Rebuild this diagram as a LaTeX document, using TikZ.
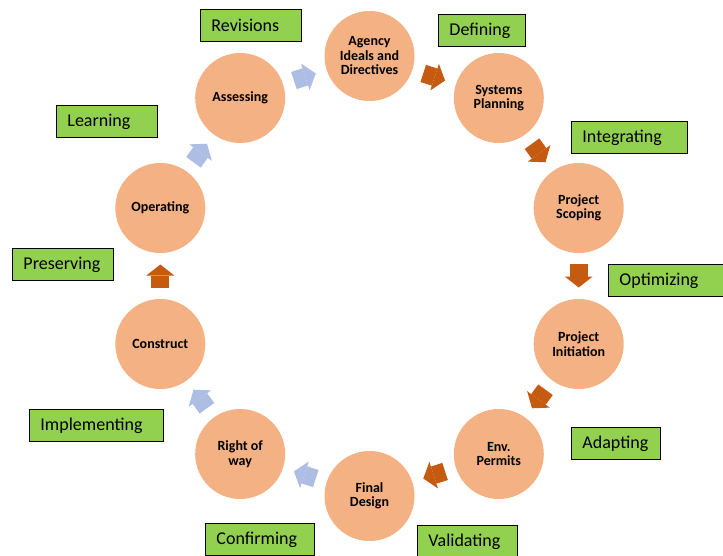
\documentclass[tikz,border=0pt]{standalone}
\usepackage{fontspec}
\setmainfont{Carlito}
\usetikzlibrary{arrows.meta}

\definecolor{stagefill}{HTML}{F4B183}
\definecolor{taggreen}{HTML}{92D050}
\definecolor{fwdorange}{HTML}{C55A11}
\definecolor{backblue}{HTML}{ADBDE3}

\tikzset{
    stage/.style = {circle, fill = stagefill, minimum size = 90pt, inner sep = 0pt, outer sep = 0pt,
        align = center, font = \bfseries\fontsize{14}{14.5}\selectfont},
    tag/.style = {draw = black, line width = 0.9pt, fill = taggreen, anchor = north west,
        minimum height = 32pt, inner xsep = 11pt, inner ysep = 0pt, align = left,
        font = \fontsize{18}{20}\selectfont},
    flow/.style = {line width = 18pt, -{Triangle[length = 11pt, width = 28pt, line width = 0pt]},
        shorten < = 11.5pt, shorten > = 11.5pt},
}

\begin{document}
\begin{tikzpicture}[x = 1pt, y = -1pt]
    \useasboundingbox (0, 0) rectangle (723, 556);

    % stages round the ring
    \node[stage] (agency) at (369.5, 56) {Agency\\Ideals and\\Directives};
    \node[stage] (systems) at (498.8, 98) {Systems\\Planning};
    \node[stage] (scoping) at (578.7, 208) {Project\\Scoping};
    \node[stage] (initiation) at (578.7, 344) {Project\\Initiation};
    \node[stage] (permits) at (498.8, 454) {Env.\\Permits};
    \node[stage] (final) at (369.5, 496) {Final\\Design};
    \node[stage] (rightofway) at (240.2, 454) {Right of\\way};
    \node[stage] (construct) at (160.3, 344) {Construct};
    \node[stage] (operating) at (160.3, 208) {Operating};
    \node[stage] (assessing) at (240.2, 98) {Assessing};

    % block arrows
    \draw[flow, fwdorange] (agency) -- (systems);
    \draw[flow, fwdorange] (systems) -- (scoping);
    \draw[flow, fwdorange] (scoping) -- (initiation);
    \draw[flow, fwdorange] (initiation) -- (permits);
    \draw[flow, fwdorange] (permits) -- (final);
    \draw[flow, backblue] (final) -- (rightofway);
    \draw[flow, backblue] (rightofway) -- (construct);
    \draw[flow, fwdorange] (construct) -- (operating);
    \draw[flow, backblue] (operating) -- (assessing);
    \draw[flow, backblue] (assessing) -- (agency);

    % green tags
    \node[tag, text width = 79pt] (revisions) at (200, 9) {Revisions};
    \node[tag, text width = 65pt] (defining) at (438, 14) {Defining};
    \node[tag, text width = 94pt] (integrating) at (571, 121) {Integrating};
    \node[tag, text width = 93pt] (optimizing) at (608, 264) {Optimizing};
    \node[tag, text width = 67pt] (adapting) at (571, 427) {Adapting};
    \node[tag, text width = 78pt] (validating) at (417, 525) {Validating};
    \node[tag, text width = 87pt] (confirming) at (205, 523) {Confirming};
    \node[tag, text width = 112pt] (implementing) at (29, 409) {Implementing};
    \node[tag, text width = 79pt] (preserving) at (12, 248) {Preserving};
    \node[tag, text width = 79pt] (learning) at (56, 105) {Learning};
\end{tikzpicture}
\end{document}
